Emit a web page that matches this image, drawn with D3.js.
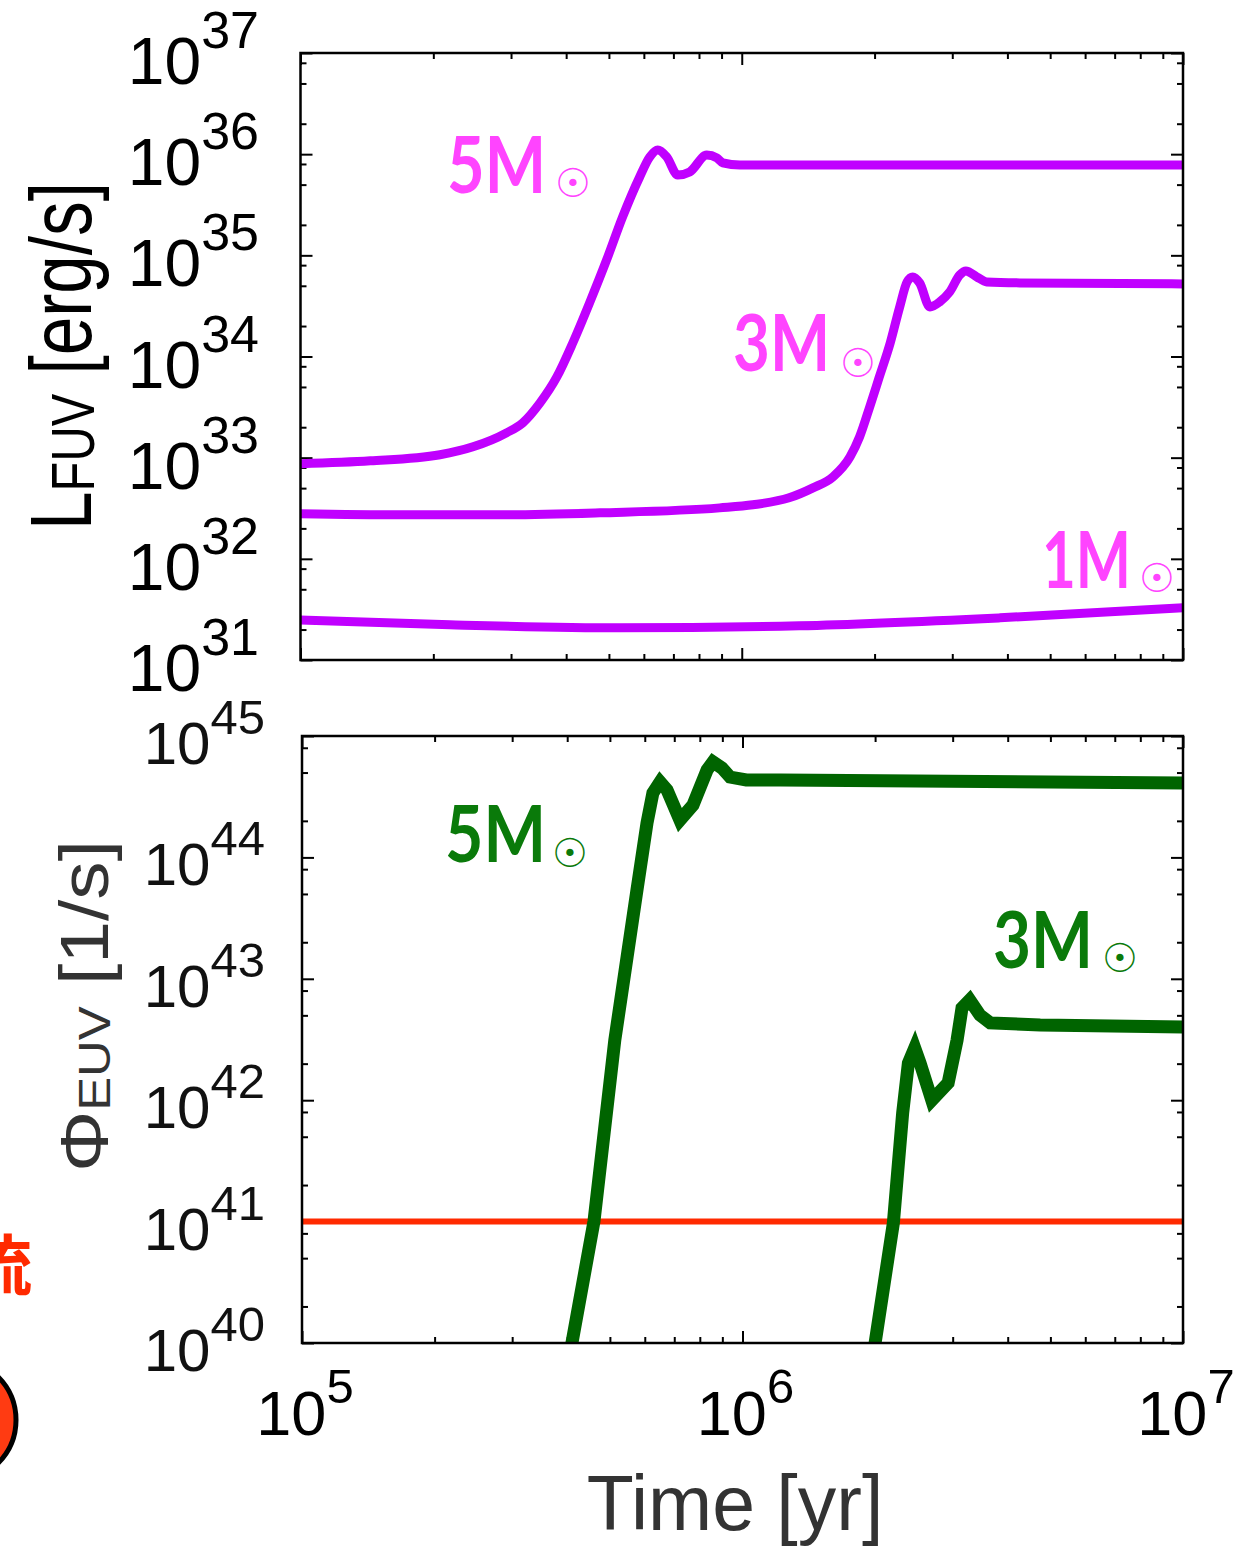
<!DOCTYPE html>
<html>
<head>
<meta charset="utf-8">
<script src="https://cdn.jsdelivr.net/npm/d3@7"></script>
<style>
  html, body { margin: 0; padding: 0; background: #fff; }
  svg { display: block; }
</style>
</head>
<body>
<svg id="chart" width="1255" height="1549"></svg>
<script>
// ---------- DATA ----------
// Top panel: FUV luminosity [erg/s] vs time [yr]
const time5FUV = [1.0e5, 1.44e5, 2.07e5, 2.46e5, 2.93e5, 3.19e5, 3.49e5, 3.81e5, 4.14e5, 4.52e5, 4.94e5, 5.37e5, 5.87e5, 6.19e5, 6.45e5, 6.76e5, 7.16e5, 7.62e5, 8.33e5, 8.78e5, 9.06e5, 9.9e5, 1.35e6, 1.0e7];
const lum5FUV  = [8.7e32, 9.3e32, 1.07e33, 1.28e33, 1.76e33, 2.21e33, 3.48e33, 6.28e33, 1.36e34, 3.39e34, 9.0e34, 2.4e35, 5.95e35, 9.4e35, 1.1e36, 9.4e35, 6.22e35, 6.67e35, 9.8e35, 9.2e35, 8.2e35, 7.8e35, 7.8e35, 7.8e35];

const time3FUV = [1.0e5, 1.68e5, 2.83e5, 4.77e5, 8.91e5, 1.06e6, 1.28e6, 1.45e6, 1.61e6, 1.76e6, 1.85e6, 1.95e6, 2.05e6, 2.17e6, 2.28e6, 2.37e6, 2.44e6, 2.53e6, 2.67e6, 2.81e6, 2.96e6, 3.12e6, 3.22e6, 3.41e6, 3.59e6, 4.27e6, 1.0e7];
const lum3FUV  = [2.79e32, 2.72e32, 2.72e32, 2.85e32, 3.19e32, 3.42e32, 4.01e32, 5.03e32, 6.46e32, 1.02e33, 1.61e33, 3.18e33, 6.28e33, 1.36e34, 3.09e34, 5.46e34, 6.12e34, 5.34e34, 3.09e34, 3.47e34, 4.35e34, 6.4e34, 7.01e34, 6.12e34, 5.46e34, 5.34e34, 5.22e34];

const time1FUV = [1.0e5, 2.18e5, 5.29e5, 1.35e6, 3.85e6, 1.0e7];
const lum1FUV  = [2.49e31, 2.23e31, 2.08e31, 2.18e31, 2.61e31, 3.28e31];

// Bottom panel: EUV photon rate [1/s] vs time [yr]
const time5EUV = [4.04e5, 4.10e5, 4.60e5, 5.13e5, 5.47e5, 5.76e5, 6.07e5, 6.26e5, 6.50e5, 6.74e5, 7.21e5, 7.72e5, 8.31e5, 8.57e5, 8.98e5, 9.37e5, 1.02e6, 1.22e6, 1.0e7];
const phi5EUV  = [7.2e39, 1.0e40, 1.0e41, 3.13e42, 1.51e43, 5.39e43, 1.92e44, 3.39e44, 4.18e44, 3.59e44, 2.03e44, 2.70e44, 5.25e44, 6.11e44, 5.45e44, 4.59e44, 4.34e44, 4.34e44, 4.10e44];

const time3EUV = [1.97e6, 2.00e6, 2.20e6, 2.31e6, 2.38e6, 2.46e6, 2.53e6, 2.69e6, 2.93e6, 3.07e6, 3.15e6, 3.28e6, 3.46e6, 3.65e6, 4.74e6, 1.0e7];
const phi3EUV  = [6.97e39, 1.0e40, 9.7e40, 7.85e41, 2.02e42, 2.69e42, 2.02e42, 1.0e42, 1.39e42, 3.13e42, 5.74e42, 6.69e42, 5.03e42, 4.33e42, 4.16e42, 4.01e42];

const thresholdEUV = 1e41;   // red horizontal line

// Axis definitions
const xDomain = [1e5, 1e7];
const xMajor = [1e5, 1e6, 1e7];
const xTickLabels = ["5", "6", "7"];         // exponents shown as 10^n
const yDomainFUV = [1e31, 1e37];
const yMajorFUV = [1e31, 1e32, 1e33, 1e34, 1e35, 1e36, 1e37];
const yLabelsFUV = ["31", "32", "33", "34", "35", "36", "37"];
const yDomainEUV = [1e40, 1e45];
const yMajorEUV = [1e40, 1e41, 1e42, 1e43, 1e44, 1e45];
const yLabelsEUV = ["40", "41", "42", "43", "44", "45"];
const yMinorMultipliers = [2, 5, 8];
const xMinorMultipliers = [2, 3, 4, 5, 6, 7, 8, 9];

// Curve labels (text) and where they sit (layout)
const massNamesFUV = ["5M", "3M", "1M"];
const massNamesEUV = ["5M", "3M"];
const massLayoutFUV = [
  { x: 447, y: 193, w: 101, sx: 573, sy: 183 },
  { x: 733, y: 371, w: 99, sx: 858, sy: 363 },
  { x: 1042, y: 588, w: 91, sx: 1157, sy: 578 }
];
const massLayoutEUV = [
  { x: 445, y: 862, w: 103, sx: 570, sy: 853 },
  { x: 993, y: 968, w: 102, sx: 1120, sy: 958 }
];

// ---------- DRAW ----------
const svg = d3.select("#chart");
const FONT = "'Liberation Sans', Arial, Helvetica, sans-serif";

function minorTicks(domain, mults) {
  const out = [];
  const lo = Math.round(Math.log10(domain[0])), hi = Math.round(Math.log10(domain[1]));
  for (let e = lo; e < hi; e++) mults.forEach(m => out.push(m * Math.pow(10, e)));
  return out;
}

function panel(opts) {
  const { left, right, top, bottom, yDomain, yMajor, id } = opts;
  const x = d3.scaleLog().domain(xDomain).range([left, right]);
  const y = d3.scaleLog().domain(yDomain).range([bottom, top]);
  const g = svg.append("g");

  const clipId = "clip-" + id;
  svg.append("clipPath").attr("id", clipId)
    .append("rect").attr("x", left).attr("y", top).attr("width", right - left).attr("height", bottom - top);

  const xMin = minorTicks(xDomain, xMinorMultipliers).filter(v => v > xDomain[0] && v < xDomain[1]);
  const yMin = minorTicks(yDomain, yMinorMultipliers);

  const styleAxis = sel => {
    sel.select(".domain").remove();
    sel.selectAll("line").attr("stroke", "#000").attr("stroke-width", 2);
    sel.selectAll("text").remove();
  };
  // inward ticks on all four sides
  g.append("g").attr("transform", `translate(0,${bottom})`)
    .call(d3.axisBottom(x).tickValues(xMajor).tickSize(-12).tickFormat("")).call(styleAxis);
  g.append("g").attr("transform", `translate(0,${bottom})`)
    .call(d3.axisBottom(x).tickValues(xMin).tickSize(-6).tickFormat("")).call(styleAxis);
  g.append("g").attr("transform", `translate(0,${top})`)
    .call(d3.axisTop(x).tickValues(xMajor).tickSize(-12).tickFormat("")).call(styleAxis);
  g.append("g").attr("transform", `translate(0,${top})`)
    .call(d3.axisTop(x).tickValues(xMin).tickSize(-6).tickFormat("")).call(styleAxis);
  g.append("g").attr("transform", `translate(${left},0)`)
    .call(d3.axisLeft(y).tickValues(yMajor).tickSize(-12).tickFormat("")).call(styleAxis);
  g.append("g").attr("transform", `translate(${left},0)`)
    .call(d3.axisLeft(y).tickValues(yMin).tickSize(-6).tickFormat("")).call(styleAxis);
  g.append("g").attr("transform", `translate(${right},0)`)
    .call(d3.axisRight(y).tickValues(yMajor).tickSize(-12).tickFormat("")).call(styleAxis);
  g.append("g").attr("transform", `translate(${right},0)`)
    .call(d3.axisRight(y).tickValues(yMin).tickSize(-6).tickFormat("")).call(styleAxis);

  const plot = svg.append("g").attr("clip-path", `url(#${clipId})`);

  // frame
  svg.append("rect").attr("x", left).attr("y", top)
    .attr("width", right - left).attr("height", bottom - top)
    .attr("fill", "none").attr("stroke", "#000").attr("stroke-width", 2.5);

  return { x, y, plot };
}

// --- Top panel (FUV) ---
const P1 = panel({ id: "fuv", left: 300.5, right: 1183, top: 53, bottom: 660, yDomain: yDomainFUV, yMajor: yMajorFUV });
const lineFUV = d3.line().x(d => P1.x(d[0])).y(d => P1.y(d[1])).curve(d3.curveMonotoneX);
[[time5FUV, lum5FUV], [time3FUV, lum3FUV], [time1FUV, lum1FUV]].forEach(([t, v]) => {
  P1.plot.append("path").datum(t.map((ti, i) => [ti, v[i]]))
    .attr("d", lineFUV).attr("fill", "none").attr("stroke", "#c000ff")
    .attr("stroke-width", 9).attr("stroke-linejoin", "round").attr("stroke-linecap", "butt");
});

// --- Bottom panel (EUV) ---
const P2 = panel({ id: "euv", left: 302, right: 1183, top: 736, bottom: 1343, yDomain: yDomainEUV, yMajor: yMajorEUV });
P2.plot.append("line")
  .attr("x1", P2.x(xDomain[0])).attr("x2", P2.x(xDomain[1]))
  .attr("y1", P2.y(thresholdEUV)).attr("y2", P2.y(thresholdEUV))
  .attr("stroke", "#ff2a00").attr("stroke-width", 6);
const lineEUV = d3.line().x(d => P2.x(d[0])).y(d => P2.y(d[1])).curve(d3.curveLinear);
[[time5EUV, phi5EUV], [time3EUV, phi3EUV]].forEach(([t, v]) => {
  P2.plot.append("path").datum(t.map((ti, i) => [ti, v[i]]))
    .attr("d", lineEUV).attr("fill", "none").attr("stroke", "#006400")
    .attr("stroke-width", 13).attr("stroke-linejoin", "miter").attr("stroke-miterlimit", 3);
});

// --- Tick labels ---
function powLabel(xp, yp, exp, fs, sfs, dy, anchor, color) {
  const t = svg.append("text").attr("x", xp).attr("y", yp)
    .attr("text-anchor", anchor).attr("font-family", FONT).attr("fill", color);
  t.append("tspan").attr("font-size", fs).text("10");
  t.append("tspan").attr("font-size", sfs).attr("dy", dy).text(exp);
}
yMajorFUV.forEach((v, i) => powLabel(259, P1.y(v) + 31, yLabelsFUV[i], 66, 52, -36, "end", "#000"));
yMajorEUV.forEach((v, i) => powLabel(265, P2.y(v) + 28, yLabelsEUV[i], 60, 49, -30, "end", "#111"));
xMajor.forEach((v, i) => powLabel(P2.x(v) + 3, 1435, xTickLabels[i], 63, 49, -32, "middle", "#000"));

// --- Axis titles ---
svg.append("text").attr("x", 735).attr("y", 1530).attr("text-anchor", "middle")
  .attr("font-family", FONT).attr("font-size", 77).attr("fill", "#333").text("Time [yr]");

const t1 = svg.append("text").attr("transform", "translate(91,356) rotate(-90)")
  .attr("text-anchor", "middle").attr("font-family", FONT).attr("fill", "#000")
  .attr("textLength", 348).attr("lengthAdjust", "spacingAndGlyphs");
t1.append("tspan").attr("font-size", 88).text("L");
t1.append("tspan").attr("font-size", 62).attr("dy", 3).text("FUV");
t1.append("tspan").attr("font-size", 88).attr("dy", -3).text(" [erg/s]");

const t2 = svg.append("text").attr("transform", "translate(108,1006) rotate(-90)")
  .attr("text-anchor", "middle").attr("font-family", FONT).attr("fill", "#333")
  .attr("textLength", 332).attr("lengthAdjust", "spacingAndGlyphs");
t2.append("tspan").attr("font-size", 68).text("Φ");
t2.append("tspan").attr("font-size", 45).attr("dy", 2).text("EUV");
t2.append("tspan").attr("font-size", 68).attr("dy", -2).text(" [1/s]");

// --- Mass labels: "5M" (horizontally scaled to its width) + solar symbol ---
const LFONT = "Lato, 'Open Sans', sans-serif";
function massLabel(name, L, color) {
  const t = svg.append("text").attr("font-family", LFONT).attr("font-weight", 700)
    .attr("font-size", 78).attr("fill", color).text(name);
  const w = t.node().getComputedTextLength();
  t.attr("transform", `translate(${L.x},${L.y}) scale(${(L.w - 2) / w},1)`);
  svg.append("text").attr("x", L.sx).attr("y", L.sy + 14).attr("text-anchor", "middle")
    .attr("font-family", "'DejaVu Sans', sans-serif").attr("font-size", 40)
    .attr("fill", color).text("☉");
}
massNamesFUV.forEach((n, i) => massLabel(n, massLayoutFUV[i], "#ff44ff"));
massNamesEUV.forEach((n, i) => massLabel(n, massLayoutEUV[i], "#0a7a0a"));

// --- Partial elements at the left edge (cropped from a neighbouring figure) ---
svg.append("text").attr("x", 32).attr("y", 1290).attr("text-anchor", "end")
  .attr("font-family", "'Noto Sans CJK JP', sans-serif").attr("font-weight", 700)
  .attr("font-size", 66).attr("fill", "#ff2a00").text("流");
svg.append("circle").attr("cx", -45).attr("cy", 1420).attr("r", 61)
  .attr("fill", "#ff3b12").attr("stroke", "#000").attr("stroke-width", 5);
</script>
</body>
</html>
